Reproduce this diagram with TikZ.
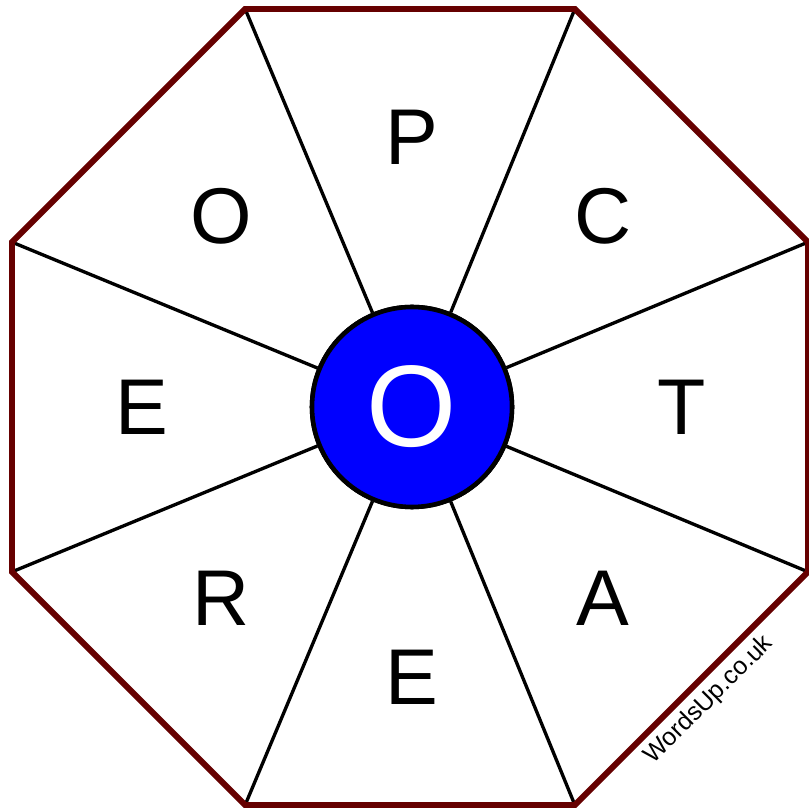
\documentclass[tikz,border=0pt]{standalone}
\usepackage{fontspec}
\setmainfont{Liberation Sans}
\usepackage{xcolor}
\usepackage{tikz}
\usetikzlibrary{calc,positioning}
\definecolor{wordRim}{RGB}{102,0,0}
\definecolor{wordBlue}{RGB}{0,0,255}
\definecolor{wordInk}{RGB}{0,0,0}

\begin{document}
\begin{tikzpicture}[x=1cm,y=1cm,
    letter/.style={text=wordInk, inner sep=0pt, font=\fontsize{22.5}{24}\selectfont},
    hubnode/.style={circle, draw=wordInk, fill=wordBlue, line width=1.3pt, minimum size=2cm, inner sep=0pt, text=white, font=\fontsize{33}{36}\selectfont},
    spoke/.style={wordInk, line width=0.95pt},
    rim/.style={wordRim, line width=1.7pt, line join=miter}]
    % frame of the picture
    \useasboundingbox (-4.10,-4.02) rectangle (3.98,4.07);

    % octagon corners
    \pgfmathsetmacro{\R}{4.308}
    \foreach \i in {0,...,7}
        \coordinate (v\i) at ({22.5+45*\i}:\R);

    % spokes from each corner towards the middle
    \node[hubnode] (hub) at (0.02,0) {O};
    \foreach \i in {0,...,7}
        \draw[spoke] (v\i) -- (hub);
    \node[hubnode] at (hub) {O};

    % outer rim
    \draw[rim] (v0) -- (v1) -- (v2) -- (v3) -- (v4) -- (v5) -- (v6) -- (v7) -- cycle;

    % letters round the wheel
    \pgfmathsetmacro{\r}{2.70}
    \node[letter] (lP) at ($(hub)+(90:\r)$) {P};
    \node[letter] (lC) at ($(hub)+(45:\r)$) {C};
    \node[letter] (lT) at ($(hub)+(0:\r)$) {T};
    \node[letter] (lA) at ($(hub)+(-45:\r)$) {A};
    \node[letter] (lE) at ($(hub)+(-90:\r)$) {E};
    \node[letter] (lR) at ($(hub)+(-135:\r)$) {R};
    \node[letter] (lEw) at ($(hub)+(180:\r)$) {E};
    \node[letter] (lO) at ($(hub)+(135:\r)$) {O};

    % watermark
    \node[rotate=45, font=\fontsize{7.1}{8}\selectfont, text=wordInk] (mark) at (2.99,-2.93) {WordsUp.co.uk};
\end{tikzpicture}
\end{document}
